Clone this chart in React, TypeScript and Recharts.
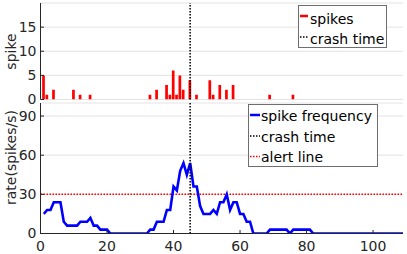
import React from 'react';
import {
  ComposedChart,
  Bar,
  Line,
  XAxis,
  YAxis,
  CartesianGrid,
  ReferenceLine,
  Legend,
  Label,
} from 'recharts';

// ---- data ----
const spikeTimes = [1, 2, 4, 10, 12, 15, 33, 35, 38, 39, 40, 41, 42, 43, 45, 47, 51, 52, 54, 56, 58, 69, 76];
const spikeCounts = [5, 1, 2, 2, 1, 1, 1, 2, 3, 1, 6, 1, 5, 2, 4, 1, 4, 1, 3, 2, 3, 1, 1];

// spike frequency (spikes/s) for t = 1 .. 109
const rateValues = [
  15, 18, 18, 24, 24, 24, 9, 6, 6, 6, 6, 9, 9, 9, 12, 6, 6, 3, 3, 3,
  0, 0, 0, 0, 0, 0, 0, 0, 0, 0, 0, 0,
  3, 3, 9, 9, 9, 18, 18, 36, 33, 48, 54, 45, 54, 36, 36, 21, 15, 15, 15, 18,
  15, 24, 24, 30, 18, 24, 24, 15, 15, 9, 9,
  0, 0, 0, 0, 0,
  3, 3, 3, 3, 3, 3,
  0,
  3, 3, 3, 3, 3, 3,
  0, 0, 0, 0, 0, 0, 0, 0, 0, 0, 0, 0, 0, 0, 0, 0, 0, 0, 0, 0, 0, 0, 0, 0, 0, 0, 0, 0,
];

const xTicks = [0, 20, 40, 60, 80, 100];
const spikeTicks = [0, 5, 10, 15];
const rateTicks = [0, 30, 60, 90];
const crashTime = 45;
const alertLevel = 30;

const spikeData = spikeTimes.map((t, i) => ({ t, spikes: spikeCounts[i] }));
const rateData = rateValues.map((v, i) => ({ t: i + 1, rate: v }));

const FONT = 'DejaVu Sans';
const AXIS = '#262626';
const GRID = '#e3e3e3';
const W = 407;
const H = 254;

const tickStyle = { fontSize: 14, fill: AXIS, fontFamily: FONT };

const TopLegend = () => (
  <svg width={90} height={44} style={{ display: 'block' }}>
    <rect x={0.5} y={0.5} width={88} height={42} fill="#fff" stroke="#6e6e6e" strokeWidth={1} />
    <line x1={2} x2={10} y1={11} y2={11} stroke="#ff0000" strokeWidth={2.5} />
    <text x={12} y={19} fontSize={14} fontFamily={FONT} fill="#000">spikes</text>
    <line x1={2} x2={10} y1={32} y2={32} stroke="#000" strokeWidth={1.5} strokeDasharray="1.5 1.5" />
    <text x={12} y={39} fontSize={14} fontFamily={FONT} fill="#000">crash time</text>
  </svg>
);

const BottomLegend = () => (
  <svg width={130} height={64} style={{ display: 'block' }}>
    <rect x={0.5} y={0.5} width={129} height={62} fill="#fff" stroke="#6e6e6e" strokeWidth={1} />
    <line x1={2} x2={12} y1={11} y2={11} stroke="#0000ff" strokeWidth={2.5} />
    <text x={13} y={17} fontSize={14} fontFamily={FONT} fill="#000">spike frequency</text>
    <line x1={2} x2={12} y1={32} y2={32} stroke="#000" strokeWidth={1.5} strokeDasharray="1.5 1.5" />
    <text x={13} y={37.5} fontSize={14} fontFamily={FONT} fill="#000">crash time</text>
    <line x1={2} x2={12} y1={52.5} y2={52.5} stroke="#ff0000" strokeWidth={1.5} strokeDasharray="1.5 1.5" />
    <text x={13} y={58} fontSize={14} fontFamily={FONT} fill="#000">alert line</text>
  </svg>
);

const rotatedLabel = (text: string, cx: number, cy: number) => () => (
  <text
    x={cx}
    y={cy}
    transform={`rotate(-90 ${cx} ${cy})`}
    textAnchor="middle"
    fontSize={14}
    fontFamily={FONT}
    fill={AXIS}
  >
    {text}
  </text>
);

export default function App() {
  return (
    <div style={{ position: 'absolute', left: 0, top: 0, width: W, height: H, background: '#fff' }}>
      {/* top panel: spikes */}
      <div style={{ position: 'absolute', left: 0, top: 0 }}>
        <ComposedChart
          width={W}
          height={H}
          data={spikeData}
          margin={{ top: 3, right: 4, bottom: 154.5, left: 0 }}
        >
          <CartesianGrid horizontal vertical={false} stroke={GRID} />
          <XAxis
            dataKey="t"
            type="number"
            domain={[0, 109]}
            allowDataOverflow
            height={0}
            tick={false}
            tickLine={false}
            axisLine={{ stroke: AXIS }}
          />
          <YAxis
            type="number"
            domain={[0, 20]}
            allowDataOverflow
            ticks={spikeTicks}
            width={40.5}
            tick={tickStyle}
            tickSize={-3.5}
            tickMargin={7.5}
            tickLine={{ stroke: AXIS }}
            axisLine={{ stroke: AXIS }}
          >
            <Label content={rotatedLabel('spike', 16, 51.5)} />
          </YAxis>
          <Bar dataKey="spikes" fill="#ff0000" barSize={2.7} isAnimationActive={false} />
          <ReferenceLine x={crashTime} stroke="#000" strokeWidth={1.5} strokeDasharray="1.5 1.5" />
          <Legend
            layout="vertical"
            align="center"
            verticalAlign="middle"
            content={() => <TopLegend />}
            wrapperStyle={{ position: 'absolute', left: 298, top: 5, width: 90, height: 44 }}
          />
        </ComposedChart>
      </div>

      {/* bottom panel: rate */}
      <div style={{ position: 'absolute', left: 0, top: 0 }}>
        <ComposedChart
          width={W}
          height={H}
          data={rateData}
          margin={{ top: 103, right: 4, bottom: 0, left: 0 }}
        >
          <CartesianGrid horizontal vertical={false} stroke={GRID} />
          <XAxis
            dataKey="t"
            type="number"
            domain={[0, 109]}
            allowDataOverflow
            ticks={xTicks}
            height={20.5}
            tick={tickStyle}
            tickSize={-3.5}
            tickMargin={11.5}
            tickLine={{ stroke: AXIS }}
            axisLine={{ stroke: AXIS }}
          />
          <YAxis
            type="number"
            domain={[0, 100]}
            allowDataOverflow
            ticks={rateTicks}
            width={40.5}
            tick={tickStyle}
            tickSize={-3.5}
            tickMargin={7.5}
            tickLine={{ stroke: AXIS }}
            axisLine={{ stroke: AXIS }}
          >
            <Label content={rotatedLabel('rate(spikes/s)', 16, 157.5)} />
          </YAxis>
          <ReferenceLine y={alertLevel} stroke="#ff0000" strokeWidth={1.5} strokeDasharray="1.5 1.5" />
          <Line
            dataKey="rate"
            type="linear"
            stroke="#0000ff"
            strokeWidth={2.6}
            dot={false}
            isAnimationActive={false}
          />
          <ReferenceLine x={crashTime} stroke="#000" strokeWidth={1.5} strokeDasharray="1.5 1.5" />
          <Legend
            layout="vertical"
            align="center"
            verticalAlign="middle"
            content={() => <BottomLegend />}
            wrapperStyle={{ position: 'absolute', left: 248, top: 104, width: 130, height: 64 }}
          />
        </ComposedChart>
      </div>
    </div>
  );
}
